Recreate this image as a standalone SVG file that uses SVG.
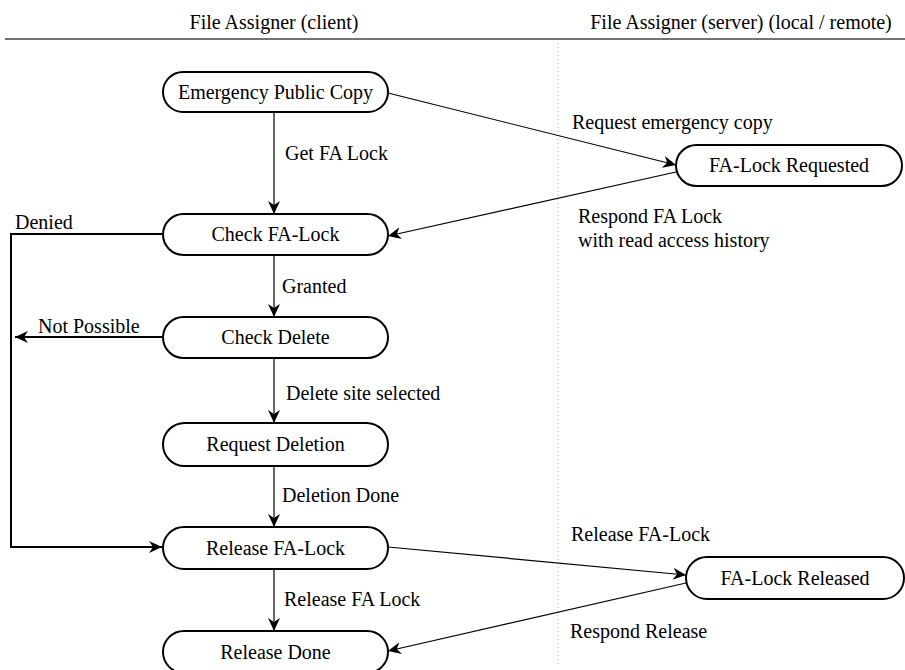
<svg xmlns="http://www.w3.org/2000/svg" width="905" height="670" viewBox="0 0 905 670">
<style>
text{font-family:"Liberation Serif","Times New Roman",serif;font-size:20px;fill:#000}
.node rect{fill:#fff;stroke:#000;stroke-width:2}
.node text{text-anchor:middle}
.c{fill:none;stroke:#000;stroke-width:1.2}
.t{fill:none;stroke:#000;stroke-width:2}
</style>
<defs>
<marker id="a" markerUnits="userSpaceOnUse" markerWidth="14" markerHeight="14" viewBox="0 0 14 14" refX="13" refY="7" orient="auto">
<path d="M0,1 L13,7 L0,13 L4,7 z" fill="#000"/>
</marker>
</defs>
<rect width="905" height="670" fill="#fff"/>
<g id="lanes">
<text x="274" y="29" text-anchor="middle">File Assigner (client)</text>
<text x="741" y="29" text-anchor="middle">File Assigner (server) (local / remote)</text>
<line x1="5" y1="39" x2="905" y2="39" stroke="#444" stroke-width="1.5"/>
<line x1="558" y1="43" x2="558" y2="665" stroke="#aaa" stroke-width="1" stroke-dasharray="1,3"/>
</g>
<g id="connectors">
<line class="c" x1="388" y1="93" x2="676" y2="165" marker-end="url(#a)"/>
<line class="c" x1="676" y1="172" x2="388" y2="236" marker-end="url(#a)"/>
<line class="c" x1="274" y1="112" x2="274" y2="214" marker-end="url(#a)"/>
<line class="c" x1="274" y1="255" x2="274" y2="317" marker-end="url(#a)"/>
<line class="c" x1="274" y1="358" x2="274" y2="423" marker-end="url(#a)"/>
<line class="c" x1="274" y1="466" x2="274" y2="527" marker-end="url(#a)"/>
<line class="c" x1="274" y1="569" x2="274" y2="631" marker-end="url(#a)"/>
<path class="t" d="M162,234 H11 V547 H162" marker-end="url(#a)"/>
<line class="t" x1="162" y1="337" x2="15" y2="337" marker-end="url(#a)"/>
<line class="c" x1="388" y1="547" x2="686" y2="575" marker-end="url(#a)"/>
<line class="c" x1="686" y1="583" x2="388" y2="651" marker-end="url(#a)"/>
<text x="572" y="129">Request emergency copy</text>
<text x="285" y="160">Get FA Lock</text>
<text x="578" y="223">Respond FA Lock</text>
<text x="578" y="247">with read access history</text>
<text x="15" y="229">Denied</text>
<text x="282" y="293">Granted</text>
<text x="38" y="333">Not Possible</text>
<text x="286" y="400">Delete site selected</text>
<text x="282" y="502">Deletion Done</text>
<text x="571" y="541">Release FA-Lock</text>
<text x="284" y="606">Release FA Lock</text>
<text x="570" y="638">Respond Release</text>
</g>
<g id="n1" class="node"><rect x="163" y="72" width="225" height="40" rx="20"/><text x="275.5" y="99">Emergency Public Copy</text></g>
<g id="n2" class="node"><rect x="676" y="145" width="226" height="41" rx="20.5"/><text x="789" y="172">FA-Lock Requested</text></g>
<g id="n3" class="node"><rect x="163" y="214" width="225" height="41" rx="20.5"/><text x="275.5" y="241">Check FA-Lock</text></g>
<g id="n4" class="node"><rect x="163" y="317" width="225" height="41" rx="20.5"/><text x="275.5" y="344">Check Delete</text></g>
<g id="n5" class="node"><rect x="163" y="423" width="225" height="43" rx="21.5"/><text x="275.5" y="451">Request Deletion</text></g>
<g id="n6" class="node"><rect x="163" y="527" width="225" height="42" rx="21"/><text x="275.5" y="555">Release FA-Lock</text></g>
<g id="n7" class="node"><rect x="686" y="557" width="218" height="42" rx="21"/><text x="795" y="585">FA-Lock Released</text></g>
<g id="n8" class="node"><rect x="163" y="631" width="225" height="42" rx="21"/><text x="275.5" y="659">Release Done</text></g>
</svg>
